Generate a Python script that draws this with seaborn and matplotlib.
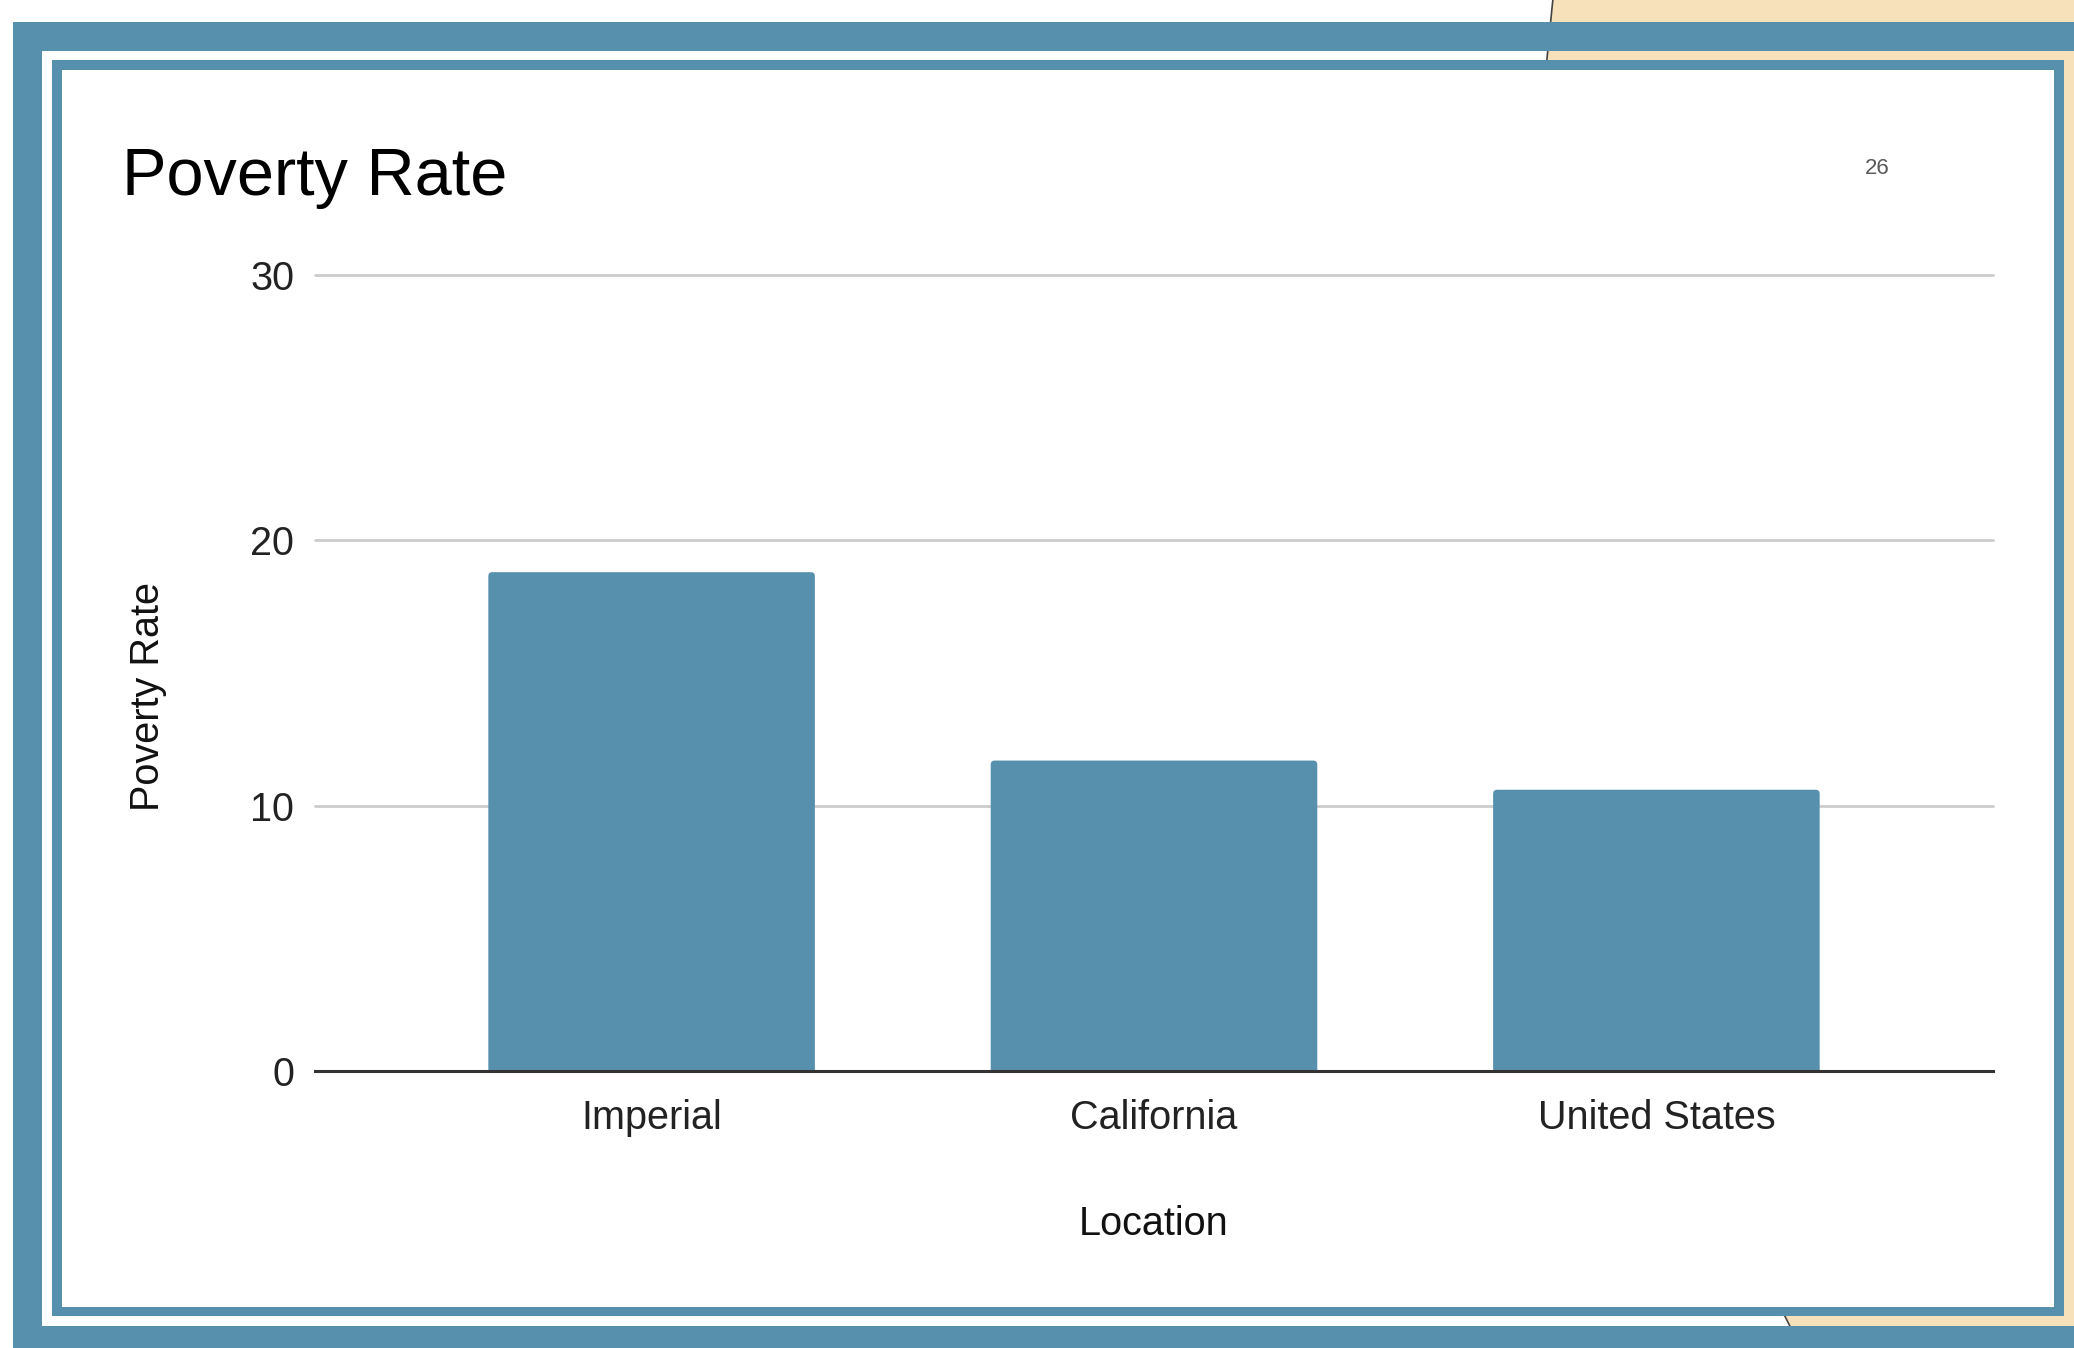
import matplotlib
matplotlib.use('Agg')
import matplotlib.pyplot as plt
import seaborn as sns
import pandas as pd
from matplotlib.patches import Rectangle, Circle, FancyBboxPatch

# Chart data
locations = ['Imperial', 'California', 'United States']
poverty_rates = [18.8, 11.7, 10.6]
y_ticks = [0, 10, 20, 30]

BAR_COLOR = '#5790ad'
FRAME_COLOR = '#5690ac'
BEIGE = '#f6e1bb'

sns.set_theme(style='white')
plt.rcParams['font.family'] = ['Liberation Sans', 'DejaVu Sans']

W, H = 2074, 1348
fig = plt.figure(figsize=(W / 100, H / 100), dpi=100)
fig.patch.set_facecolor('white')

# --- Slide background (pixel coordinates) ---
bg = fig.add_axes([0, 0, 1, 1], zorder=0)
bg.set_xlim(0, W)
bg.set_ylim(H, 0)
bg.axis('off')

bg.add_patch(Circle((3900, 265), 2362, facecolor=BEIGE, edgecolor='#444444', lw=1.2))
# outer frame (open on the right)
bg.add_patch(Rectangle((13, 22), W, 29, facecolor=FRAME_COLOR, lw=0))
bg.add_patch(Rectangle((13, 22), 29, H, facecolor=FRAME_COLOR, lw=0))
bg.add_patch(Rectangle((13, 1326), W, 30, facecolor=FRAME_COLOR, lw=0))
# inner frame and white content area
bg.add_patch(Rectangle((52, 60), 2012, 1256, facecolor=FRAME_COLOR, lw=0))
bg.add_patch(Rectangle((62, 70), 1992, 1237, facecolor='white', lw=0))

# --- Chart ---
df = pd.DataFrame({'Location': locations, 'Poverty Rate': poverty_rates})

ax = fig.add_axes([315 / W, 1 - 1071 / H, 1678 / W, 796 / H], zorder=1)
ax.set_facecolor('none')
sns.barplot(data=df, x='Location', y='Poverty Rate', color=BAR_COLOR,
            saturation=1, width=0.65, ax=ax)

ax.set_xlim(-0.67, 2.67)
ax.set_ylim(0, 30)

# swap the plain bars for ones with slightly rounded tops
for p in list(ax.patches):
    x, w, h = p.get_x(), p.get_width(), p.get_height()
    p.remove()
    ax.add_patch(FancyBboxPatch((x, -0.5), w, h + 0.5,
                                boxstyle='round,pad=0,rounding_size=0.008',
                                mutation_aspect=18.9, facecolor=BAR_COLOR,
                                lw=0, zorder=2))

ax.set_yticks(y_ticks)
ax.yaxis.grid(True, color='#cccccc', lw=2)
for gl in ax.get_ygridlines():
    gl.set_clip_on(False)
ax.set_axisbelow(True)

for side in ['top', 'right', 'left']:
    ax.spines[side].set_visible(False)
ax.spines['bottom'].set_color('#333333')
ax.spines['bottom'].set_linewidth(2.2)
ax.spines['bottom'].set_zorder(3)

ax.tick_params(axis='both', length=0, labelsize=28.5, colors='#222222')
ax.tick_params(axis='y', pad=15)
ax.tick_params(axis='x', pad=20)

ax.set_xlabel('Location', fontsize=28.5, color='#111111')
ax.set_ylabel('Poverty Rate', fontsize=28.5, color='#111111')
ax.xaxis.set_label_coords(0.5, -0.168)
ax.yaxis.set_label_coords(-0.088, 0.471)

fig.text(122 / W, 1 - 195 / H, 'Poverty Rate', fontsize=48, color='black',
         ha='left', va='baseline')
fig.text(1877 / W, 1 - 168 / H, '26', fontsize=16, color='#595959',
         ha='center', va='center')

plt.savefig('out.png', dpi=100)
plt.close()
